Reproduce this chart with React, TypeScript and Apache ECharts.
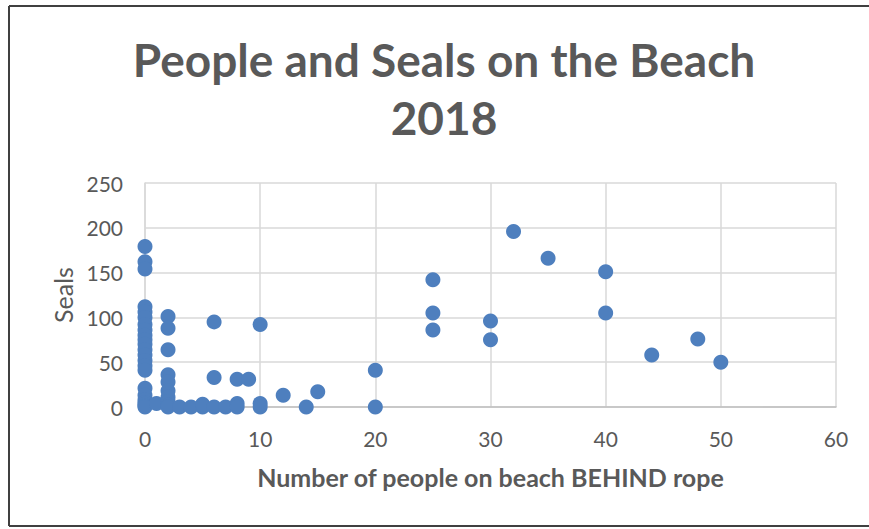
import React, { useEffect, useRef } from "react";
import * as echarts from "echarts";

const titleLines = ["People and Seals on the Beach", "2018"];
const xAxisTitle = "Number of people on beach BEHIND rope";
const yAxisTitle = "Seals";

// People behind rope (x) and seals (y)
const people = [
  0, 0, 0, 0, 0, 0, 0, 0, 0, 0, 0, 0, 0, 0, 0, 0, 0, 0, 0, 0, 0, 0, 0,
  1,
  2, 2, 2, 2, 2, 2, 2, 2, 2, 2,
  3, 4, 5, 5,
  6, 6, 6,
  7, 8, 8, 8, 9,
  10, 10, 10,
  12, 14, 15,
  20, 20,
  25, 25, 25,
  30, 30, 32, 35, 40, 40, 44, 48, 50,
];
const seals = [
  179, 162, 154, 112, 106, 100, 92, 86, 80, 75, 70, 64, 58, 52, 46, 41, 21, 13, 8, 5, 3, 1, 0,
  4,
  101, 88, 64, 36, 28, 18, 11, 6, 2, 0,
  0, 0, 0, 3,
  95, 33, 0,
  0, 31, 4, 0, 31,
  92, 4, 0,
  13, 0, 17,
  41, 0,
  142, 105, 86,
  96, 75, 196, 166, 151, 105, 58, 76, 50,
];

const xTicks = { min: 0, max: 60, interval: 10 };
const yTicks = { min: 0, max: 250, interval: 50 };

const FONT = "Lato, 'Open Sans', sans-serif";
const TEXT = "#595959";
const FRAME = "#404040";

export default function App() {
  const ref = useRef<HTMLDivElement>(null);
  useEffect(() => {
    document.body.style.margin = "0";
    if (!ref.current) return;
    const chart = echarts.init(ref.current, undefined, { renderer: "svg" });
    const data = people.map((p, i) => [p, seals[i]]);
    chart.setOption({
      animation: false,
      backgroundColor: "#ffffff",
      graphic: [
        { type: "line", shape: { x1: 9, y1: 6, x2: 869, y2: 6 }, style: { stroke: FRAME, lineWidth: 2 }, silent: true },
        { type: "line", shape: { x1: 9, y1: 526, x2: 869, y2: 526 }, style: { stroke: FRAME, lineWidth: 2 }, silent: true },
        { type: "line", shape: { x1: 9, y1: 6, x2: 9, y2: 526 }, style: { stroke: FRAME, lineWidth: 2 }, silent: true },
        {
          type: "text",
          x: 444,
          y: 59,
          style: {
            text: titleLines[0],
            font: `bold 46px ${FONT}`,
            fill: TEXT,
            textAlign: "center",
            textVerticalAlign: "middle",
          },
        },
        {
          type: "text",
          x: 444,
          y: 117,
          style: {
            text: titleLines[1],
            font: `bold 46px ${FONT}`,
            fill: TEXT,
            textAlign: "center",
            textVerticalAlign: "middle",
          },
        },
      ],
      grid: { left: 145, right: 33, top: 183, bottom: 122, containLabel: false },
      xAxis: {
        type: "value",
        ...xTicks,
        name: xAxisTitle,
        nameLocation: "middle",
        nameGap: 57,
        nameTextStyle: { color: TEXT, fontFamily: FONT, fontSize: 25, fontWeight: "bold" },
        axisLine: { show: true, lineStyle: { color: "#bfbfbf", width: 1.5 } },
        axisTick: { show: false },
        axisLabel: { color: TEXT, fontFamily: FONT, fontSize: 21, margin: 21 },
        splitLine: { show: true, lineStyle: { color: "#d9d9d9", width: 1.5 } },
      },
      yAxis: {
        type: "value",
        ...yTicks,
        name: yAxisTitle,
        nameLocation: "middle",
        nameGap: 70,
        nameRotate: 90,
        nameTextStyle: { color: TEXT, fontFamily: FONT, fontSize: 25, fontWeight: "normal" },
        axisLine: { show: true, lineStyle: { color: "#d9d9d9", width: 1.5 } },
        axisTick: { show: false },
        axisLabel: { color: TEXT, fontFamily: FONT, fontSize: 21, margin: 22 },
        splitLine: { show: true, lineStyle: { color: "#d9d9d9", width: 1.5 } },
      },
      series: [
        {
          type: "scatter",
          data,
          symbol: "circle",
          symbolSize: 15,
          itemStyle: { color: "#4E7FBE", opacity: 1 },
        },
      ],
    });
    return () => chart.dispose();
  }, []);
  return <div ref={ref} style={{ width: 869, height: 529 }} />;
}
